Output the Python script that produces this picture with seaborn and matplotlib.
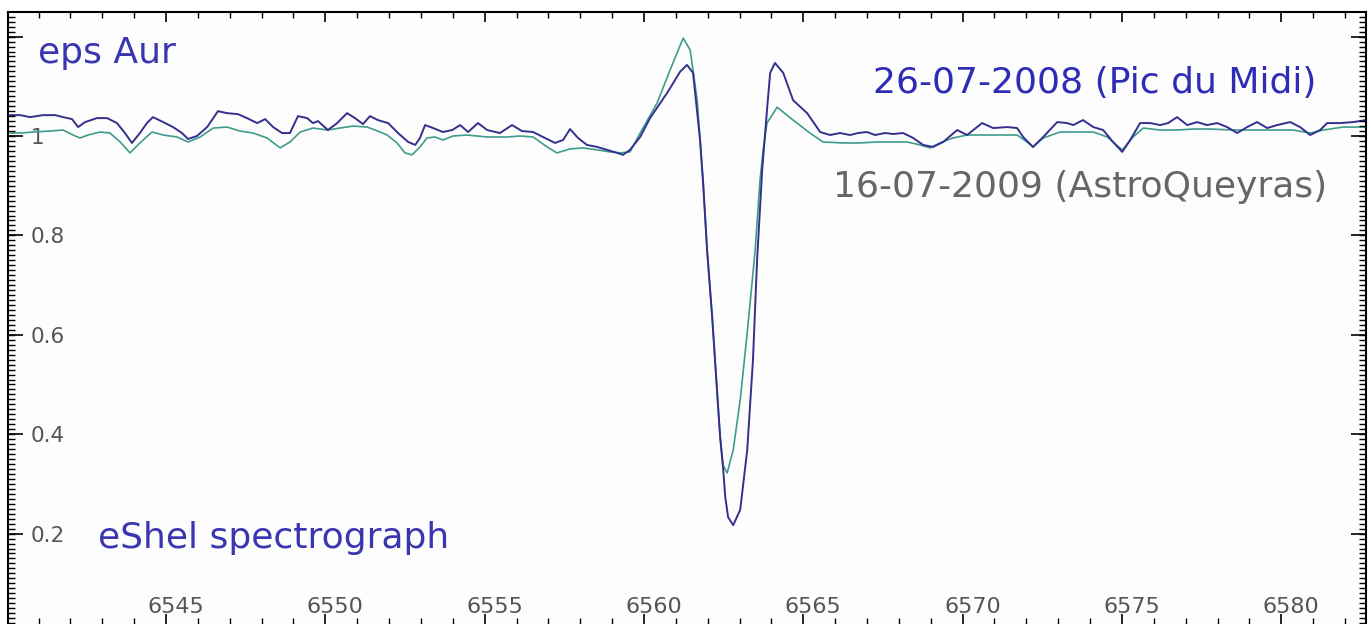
import numpy as np
import pandas as pd
import matplotlib
matplotlib.use("Agg")
import matplotlib.pyplot as plt
from matplotlib.ticker import FixedLocator, FixedFormatter, MultipleLocator
from matplotlib.transforms import ScaledTranslation
import seaborn as sns

# ---- data ----
series_names = ["26-07-2008 (Pic du Midi)", "16-07-2009 (AstroQueyras)"]

pic_wl = [6540.10, 6540.42, 6540.73, 6541.14, 6541.52, 6541.77, 6542.05, 6542.24, 6542.46, 6542.83,
          6543.15, 6543.46, 6543.71, 6543.93, 6544.18, 6544.40, 6544.59, 6544.91, 6545.22, 6545.50,
          6545.69, 6545.97, 6546.29, 6546.63, 6546.91, 6547.26, 6547.54, 6547.86, 6548.11, 6548.36,
          6548.64, 6548.89, 6549.14, 6549.43, 6549.61, 6549.77, 6550.08, 6550.37, 6550.68, 6550.93,
          6551.18, 6551.40, 6551.65, 6551.97, 6552.28, 6552.60, 6552.82, 6552.97, 6553.13, 6553.38,
          6553.69, 6553.98, 6554.23, 6554.48, 6554.79, 6555.08, 6555.48, 6555.86, 6556.17, 6556.52,
          6556.83, 6557.21, 6557.46, 6557.68, 6557.93, 6558.21, 6558.53, 6558.84, 6559.16, 6559.34,
          6559.56, 6559.88, 6560.19, 6560.73, 6561.13, 6561.35, 6561.54, 6561.76, 6561.86, 6561.98,
          6562.14, 6562.29, 6562.39, 6562.48, 6562.55, 6562.64, 6562.80, 6563.02, 6563.24, 6563.42,
          6563.55, 6563.71, 6563.86, 6563.96, 6564.11, 6564.37, 6564.68, 6565.12, 6565.53, 6565.84,
          6566.15, 6566.47, 6566.72, 6567.00, 6567.25, 6567.57, 6567.82, 6568.13, 6568.45, 6568.76,
          6569.07, 6569.39, 6569.83, 6570.14, 6570.61, 6570.96, 6571.40, 6571.71, 6571.90, 6572.21,
          6572.53, 6572.97, 6573.28, 6573.47, 6573.78, 6574.10, 6574.41, 6574.72, 6575.01, 6575.26,
          6575.57, 6575.89, 6576.20, 6576.45, 6576.73, 6577.05, 6577.36, 6577.67, 6577.99, 6578.30,
          6578.62, 6578.93, 6579.24, 6579.56, 6579.87, 6580.28, 6580.59, 6580.91, 6581.22, 6581.44,
          6581.85, 6582.26, 6582.66]
pic_flux = [1.042, 1.042, 1.038, 1.042, 1.042, 1.038, 1.034, 1.018, 1.028, 1.036,
            1.036, 1.026, 1.006, 0.986, 1.006, 1.026, 1.038, 1.028, 1.018, 1.006,
            0.994, 1.000, 1.018, 1.050, 1.046, 1.044, 1.036, 1.026, 1.034, 1.018,
            1.006, 1.006, 1.040, 1.036, 1.026, 1.030, 1.012, 1.026, 1.046, 1.036,
            1.024, 1.040, 1.032, 1.026, 1.006, 0.988, 0.982, 0.996, 1.022, 1.016,
            1.008, 1.012, 1.022, 1.008, 1.026, 1.012, 1.006, 1.022, 1.010, 1.008,
            0.998, 0.986, 0.992, 1.014, 0.996, 0.982, 0.978, 0.972, 0.966, 0.962,
            0.972, 0.998, 1.036, 1.087, 1.129, 1.143, 1.127, 0.992, 0.901, 0.771,
            0.636, 0.489, 0.394, 0.334, 0.274, 0.233, 0.217, 0.248, 0.368, 0.549,
            0.751, 0.932, 1.052, 1.127, 1.147, 1.127, 1.072, 1.046, 1.008, 1.002,
            1.006, 1.002, 1.006, 1.008, 1.002, 1.006, 1.004, 1.006, 0.996, 0.982,
            0.978, 0.988, 1.012, 1.002, 1.026, 1.016, 1.018, 1.016, 0.998, 0.978,
            0.998, 1.028, 1.026, 1.022, 1.032, 1.018, 1.012, 0.988, 0.968, 0.992,
            1.026, 1.026, 1.022, 1.026, 1.038, 1.022, 1.028, 1.022, 1.026, 1.018,
            1.006, 1.018, 1.028, 1.016, 1.022, 1.028, 1.018, 1.002, 1.012, 1.026,
            1.026, 1.028, 1.032]

aq_wl = [6540.10, 6540.42, 6540.83, 6541.36, 6541.77, 6542.08, 6542.30, 6542.55, 6542.93, 6543.24,
         6543.56, 6543.87, 6544.18, 6544.56, 6544.91, 6545.35, 6545.69, 6546.07, 6546.48, 6546.91,
         6547.32, 6547.73, 6548.17, 6548.58, 6548.89, 6549.21, 6549.61, 6550.08, 6550.46, 6550.87,
         6551.31, 6551.56, 6551.94, 6552.25, 6552.50, 6552.72, 6552.97, 6553.19, 6553.44, 6553.69,
         6554.01, 6554.45, 6555.08, 6555.70, 6556.11, 6556.52, 6556.96, 6557.27, 6557.68, 6558.09,
         6558.53, 6558.94, 6559.25, 6559.56, 6559.88, 6560.41, 6560.82, 6561.23, 6561.45, 6561.67,
         6561.86, 6561.98, 6562.14, 6562.29, 6562.39, 6562.48, 6562.61, 6562.80, 6563.02, 6563.24,
         6563.39, 6563.49, 6563.64, 6563.74, 6563.86, 6564.18, 6564.68, 6565.21, 6565.62, 6566.25,
         6566.78, 6567.32, 6568.26, 6568.67, 6568.98, 6569.29, 6569.70, 6570.14, 6570.96, 6571.71,
         6572.02, 6572.21, 6572.53, 6573.06, 6573.69, 6574.10, 6574.54, 6575.01, 6575.35, 6575.67,
         6576.20, 6576.73, 6577.23, 6577.77, 6578.49, 6579.12, 6579.75, 6580.37, 6580.91, 6581.32,
         6581.94, 6582.66]
aq_flux = [1.006, 1.006, 1.008, 1.010, 1.012, 1.002, 0.996, 1.002, 1.008, 1.006,
           0.988, 0.966, 0.986, 1.008, 1.002, 0.998, 0.988, 0.998, 1.016, 1.018,
           1.010, 1.006, 0.996, 0.976, 0.988, 1.008, 1.016, 1.012, 1.016, 1.020,
           1.018, 1.012, 1.002, 0.986, 0.966, 0.962, 0.978, 0.996, 0.998, 0.992,
           1.000, 1.002, 0.998, 0.998, 1.000, 0.998, 0.978, 0.966, 0.974, 0.976,
           0.972, 0.968, 0.966, 0.968, 1.006, 1.066, 1.133, 1.197, 1.173, 1.072,
           0.905, 0.771, 0.636, 0.489, 0.394, 0.338, 0.322, 0.368, 0.469, 0.604,
           0.704, 0.771, 0.911, 0.972, 1.026, 1.058, 1.032, 1.006, 0.988, 0.986,
           0.986, 0.988, 0.988, 0.982, 0.976, 0.986, 0.996, 1.002, 1.002, 1.002,
           0.988, 0.978, 0.996, 1.008, 1.008, 1.008, 0.998, 0.972, 0.998, 1.016,
           1.012, 1.012, 1.014, 1.014, 1.012, 1.012, 1.012, 1.012, 1.006, 1.012,
           1.018, 1.018]

xtick_vals = [6545, 6550, 6555, 6560, 6565, 6570, 6575, 6580]
xtick_labels = ["6545", "6550", "6555", "6560", "6565", "6570", "6575", "6580"]
ytick_vals = [0.2, 0.4, 0.6, 0.8, 1.0, 1.2]
ytick_labels = ["0.2", "0.4", "0.6", "0.8", "1", ""]
ytick_minor = list(np.round(np.arange(0.02, 1.25, 0.01), 2))

# ---- styling ----
sns.set_style("ticks")
plt.rcParams["font.family"] = ["DejaVu Sans"]

BLUE_LINE = "#34308c"
TEAL_LINE = "#3f9c8c"
TITLE_BLUE = "#3a36b0"
DATE_BLUE = "#2e2cb4"
GRAY_TXT = "#666666"
TICK_TXT = "#555555"

W, H = 1371, 624
XLIM = (6540.04, 6582.66)
YLIM = (0.0181, 1.2495)
POS = [8 / W, 0.0, 1358 / W, 612 / H]

fig = plt.figure(figsize=(W / 100, H / 100), dpi=100)
fig.patch.set_facecolor("white")
ax = fig.add_axes(POS)
ax.set_facecolor("#fcfdfc")

df = pd.concat([
    pd.DataFrame({"wl": aq_wl, "flux": aq_flux, "obs": series_names[1]}),
    pd.DataFrame({"wl": pic_wl, "flux": pic_flux, "obs": series_names[0]}),
], ignore_index=True)

sns.lineplot(data=df, x="wl", y="flux", hue="obs",
             hue_order=[series_names[1], series_names[0]],
             palette=[TEAL_LINE, BLUE_LINE], estimator=None, sort=False,
             legend=False, ax=ax, linewidth=1.3)
for ln, lw in zip(ax.lines, [1.2, 1.4]):
    ln.set_linewidth(lw)

ax.set_xlim(*XLIM)
ax.set_ylim(*YLIM)
ax.set_xlabel("")
ax.set_ylabel("")

for side in ["top", "left", "right"]:
    ax.spines[side].set_linewidth(1.5)
    ax.spines[side].set_color("black")
ax.spines["bottom"].set_visible(False)

# annotations
ax.text(0.0221, 0.9167, "eps Aur", transform=ax.transAxes, fontsize=26,
        color=TITLE_BLUE, ha="left", va="baseline")
ax.text(0.9632, 0.8676, series_names[0], transform=ax.transAxes, fontsize=26,
        color=DATE_BLUE, ha="right", va="baseline")
ax.text(0.9713, 0.6977, series_names[1], transform=ax.transAxes, fontsize=26,
        color=GRAY_TXT, ha="right", va="baseline")
ax.text(0.0663, 0.1242, "eShel spectrograph", transform=ax.transAxes, fontsize=26,
        color=TITLE_BLUE, ha="left", va="baseline")

# ticks
ax.xaxis.set_major_locator(FixedLocator(xtick_vals))
ax.xaxis.set_major_formatter(FixedFormatter(xtick_labels))
ax.xaxis.set_minor_locator(MultipleLocator(1))
ax.yaxis.set_major_locator(FixedLocator(ytick_vals))
ax.yaxis.set_major_formatter(FixedFormatter(ytick_labels))

ax.tick_params(axis="both", which="both", direction="in", top=True, right=True,
               bottom=True, left=True, color="black")
ax.tick_params(axis="x", which="major", length=7, width=1.2, pad=-19.5,
               labelsize=16, labelcolor=TICK_TXT)
ax.tick_params(axis="x", which="minor", length=4, width=1.0)
ax.tick_params(axis="y", which="major", length=11, width=1.2, pad=-16.6,
               labelsize=15.5, labelcolor=TICK_TXT)

for lab in ax.get_yticklabels():
    lab.set_horizontalalignment("left")
shift = ScaledTranslation(10 / 100, 0, fig.dpi_scale_trans)
for lab in ax.get_xticklabels():
    lab.set_transform(lab.get_transform() + shift)

# dense fine ticks along the left and right frame (axes-x / data-y blend)
ytrans = ax.get_yaxis_transform()
tick_frac = 7 / 1358
ax.hlines(ytick_minor, 0, tick_frac, transform=ytrans, colors="black",
          linewidth=1.0, zorder=5, clip_on=False)
ax.hlines(ytick_minor, 1 - tick_frac, 1, transform=ytrans, colors="black",
          linewidth=1.0, zorder=5, clip_on=False)

fig.savefig("out.png", dpi=100, facecolor="white")
